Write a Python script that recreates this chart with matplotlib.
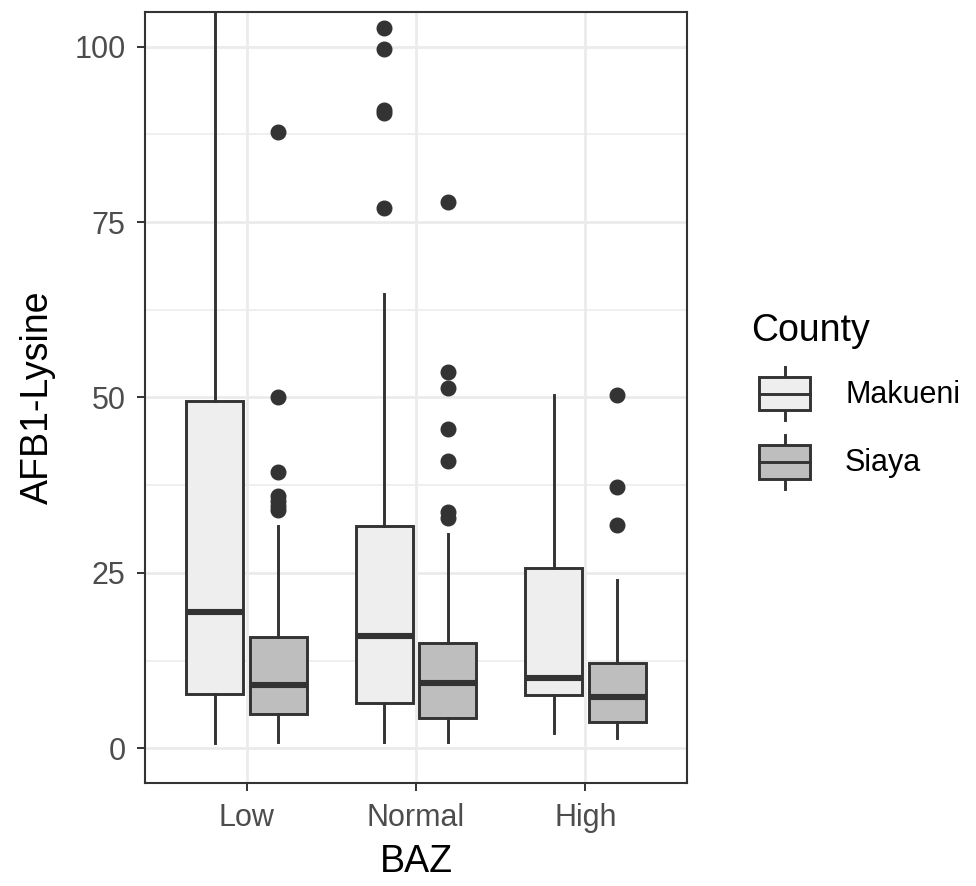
import matplotlib
matplotlib.use("Agg")
import matplotlib.pyplot as plt
from matplotlib.legend_handler import HandlerBase
from matplotlib.patches import Rectangle
from matplotlib.lines import Line2D
import numpy as np

plt.rcParams['font.family'] = ['Liberation Sans', 'DejaVu Sans']

# ---------------- data ----------------
groups = ["Low", "Normal", "High"]
counties = ["Makueni", "Siaya"]

mak_whislo = [0.7, 0.95, 2.2]
mak_q1 = [7.7, 6.5, 7.6]
mak_med = [19.4, 16.0, 10.0]
mak_q3 = [49.5, 31.7, 25.65]
mak_whishi = [110.0, 64.75, 50.35]
mak_fliers = [[], [77.05, 90.6, 91.0, 99.6, 102.7], []]

sia_whislo = [0.95, 0.95, 1.4]
sia_q1 = [4.9, 4.3, 3.8]
sia_med = [9.0, 9.35, 7.35]
sia_q3 = [15.9, 15.0, 12.1]
sia_whishi = [31.7, 30.5, 24.0]
sia_fliers = [[34.0, 34.5, 35.3, 36.0, 39.4, 50.0, 87.9],
              [32.8, 33.7, 41.0, 45.5, 51.3, 53.7, 77.8],
              [31.8, 37.3, 50.35]]

yticks = [0, 25, 50, 75, 100]
xlabel = "BAZ"
ylabel = "AFB1-Lysine"
legend_title = "County"

# ---------------- style ----------------
fills = {"Makueni": "#EEEEEE", "Siaya": "#BEBEBE"}
line_col = "#333333"
grid_col = "#EBEBEB"

W, H = 976, 886
fig = plt.figure(figsize=(W / 100, H / 100), dpi=100)
ax = fig.add_axes([145 / W, (H - 783.4) / H, (687 - 145) / W, (783.4 - 11.6) / H])

def make_stats(lo, q1, med, q3, hi, fl):
    return [dict(whislo=a, q1=b, med=c, q3=d, whishi=e, fliers=f)
            for a, b, c, d, e, f in zip(lo, q1, med, q3, hi, fl)]

series = {
    "Makueni": make_stats(mak_whislo, mak_q1, mak_med, mak_q3, mak_whishi, mak_fliers),
    "Siaya": make_stats(sia_whislo, sia_q1, sia_med, sia_q3, sia_whishi, sia_fliers),
}

base = np.arange(1, len(groups) + 1)
dodge = 0.1875
bw = 0.3375
lw_box = 2.1
for i, c in enumerate(counties):
    pos = base + (i - 0.5) * 2 * dodge
    ax.bxp(series[c], positions=pos, widths=bw, patch_artist=True, showcaps=False,
           boxprops=dict(facecolor=fills[c], edgecolor=line_col, linewidth=lw_box),
           medianprops=dict(color=line_col, linewidth=4.4, solid_capstyle='butt'),
           whiskerprops=dict(color=line_col, linewidth=lw_box),
           flierprops=dict(marker='o', markerfacecolor=line_col, markeredgecolor=line_col,
                           markersize=10.5, linestyle='none'),
           manage_ticks=False)

ax.set_xlim(0.4, 3.6)
ax.set_ylim(-5, 105)
ax.set_xticks(base)
ax.set_xticklabels(groups)
ax.set_yticks(yticks)
ax.set_yticks([12.5, 37.5, 62.5, 87.5], minor=True)
ax.set_axisbelow(True)
ax.grid(True, which='major', color=grid_col, linewidth=2.0)
ax.grid(True, which='minor', axis='y', color=grid_col, linewidth=1.1)
ax.tick_params(axis='both', which='major', length=6, width=1.4, color=line_col,
               labelsize=22, labelcolor="#4D4D4D")
ax.tick_params(axis='x', pad=8)
ax.tick_params(axis='y', pad=8)
ax.tick_params(which='minor', length=0)
for s in ax.spines.values():
    s.set_color(line_col)
    s.set_linewidth(1.5)

ax.set_xlabel(xlabel, fontsize=27, color='black', labelpad=8)
ax.set_ylabel(ylabel, fontsize=27, color='black', labelpad=13)

# ---------------- legend ----------------
class BoxKeyHandler(HandlerBase):
    def create_artists(self, legend, orig_handle, xdescent, ydescent, width, height,
                       fontsize, trans):
        x0, y0 = -xdescent, -ydescent
        fc = orig_handle.get_facecolor()
        xm = x0 + width / 2
        arts = [
            Line2D([xm, xm], [y0 + 0.1 * height, y0 + 0.25 * height], color=line_col, lw=lw_box),
            Line2D([xm, xm], [y0 + 0.75 * height, y0 + 0.9 * height], color=line_col, lw=lw_box),
            Rectangle((x0 + 0.125 * width, y0 + 0.25 * height), 0.75 * width, 0.5 * height,
                      facecolor=fc, edgecolor=line_col, lw=lw_box),
            Line2D([x0 + 0.125 * width, x0 + 0.875 * width], [y0 + 0.5 * height] * 2,
                   color=line_col, lw=lw_box),
        ]
        for a in arts:
            a.set_transform(trans)
        return arts

handles = [Rectangle((0, 0), 1, 1, facecolor=fills[c]) for c in counties]
fs = 22
key_h_pt = 67 * 72 / 100
key_w_pt = 67 * 72 / 100
hh = (key_h_pt / fs - 0.245) / 0.65
leg = fig.legend(handles, counties, handler_map={Rectangle: BoxKeyHandler()},
                 loc='upper left', bbox_to_anchor=(751 / W, (H - 313) / H),
                 frameon=False, fontsize=fs, title=legend_title, title_fontsize=27,
                 handlelength=key_w_pt / fs, handleheight=hh, labelspacing=0.05,
                 handletextpad=(27 * 72 / 100) / fs, borderpad=0, borderaxespad=0,
                 alignment='left')
leg._legend_box.sep = 8

fig.savefig("out.png", dpi=100)
